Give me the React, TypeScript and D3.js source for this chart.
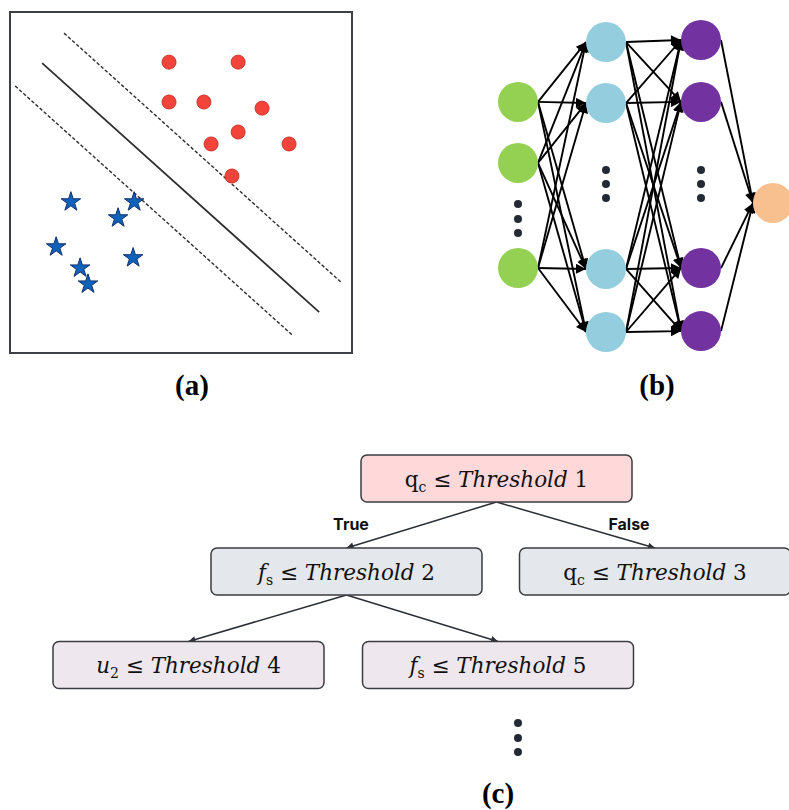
import React from "react";
import * as d3 from "d3";

// ---------- Panel (a): SVM data ----------
const redX = [4.65, 6.67, 4.65, 5.67, 7.37, 6.67, 5.88, 8.16, 6.49];
const redY = [8.53, 8.53, 7.36, 7.36, 7.18, 6.48, 6.13, 6.13, 5.19];
const blueX = [1.78, 3.63, 3.16, 1.35, 3.6, 2.05, 2.28];
const blueY = [4.43, 4.43, 3.96, 3.11, 2.79, 2.49, 2.02];
// margin / hyperplane lines: [x1, y1, x2, y2]
const upperMargin = [1.58, 9.38, 9.71, 2.05];
const hyperplane = [0.94, 8.5, 9.04, 1.2];
const lowerMargin = [0.15, 7.83, 8.25, 0.53];

// ---------- Panel (b): neural network ----------
const layerPos = [0, 88, 183, 255];
const inputNodes = [21.2, 42.1, 78.1];
const hidden1Nodes = [0.7, 21.6, 78.4, 100];
const hidden2Nodes = [0, 21.2, 78.1, 99.7];
const outputNodes = [55.8];
const inputDots = [56.2, 61.3, 66.1];
const hidden1Dots = [44.5, 49.3, 54.1];
const hidden2Dots = [44.5, 49.3, 54.1];

// ---------- Panel (c): decision tree ----------
const treeVar = ["q", "f", "q", "u", "f"];
const treeSub = ["c", "s", "c", "2", "s"];
const treeVarItalic = [false, true, false, true, true];
const treeThreshold = ["1", "2", "3", "4", "5"];
const treeEdges: [number, number, string][] = [
  [0, 1, "True"],
  [0, 2, "False"],
  [1, 3, ""],
  [1, 4, ""],
];
const panelLabels = ["(a)", "(b)", "(c)"];

export default function App() {
  const W = 789;
  const H = 810;

  // panel a scales
  const ax = d3.scaleLinear().domain([0, 10]).range([10, 352]);
  const ay = d3.scaleLinear().domain([0, 10]).range([353, 12]);
  const star = d3.symbol().type(d3.symbolStar).size(118)()!;

  // panel b scales
  const nx = d3.scaleLinear().domain([0, 255]).range([518, 773]);
  const ny = d3.scaleLinear().domain([0, 100]).range([40, 332]);
  const layers = [inputNodes, hidden1Nodes, hidden2Nodes, outputNodes];
  const layerDots = [inputDots, hidden1Dots, hidden2Dots, []];
  const layerColors = ["#94D153", "#94CEDE", "#7232A0", "#F9C08F"];
  const R = 20;

  const arrows: { x1: number; y1: number; x2: number; y2: number }[] = [];
  for (let l = 0; l < layers.length - 1; l++) {
    for (const s of layers[l]) {
      for (const t of layers[l + 1]) {
        arrows.push({
          x1: nx(layerPos[l]) + R,
          y1: ny(s),
          x2: nx(layerPos[l + 1]) - R,
          y2: ny(t),
        });
      }
    }
  }

  // panel c layout
  const boxW = 271;
  const boxH = 47;
  const boxCx = [496.5, 346.5, 655, 188.5, 498];
  const boxCy = [478.5, 571.5, 571.5, 665, 665];
  const boxFill = ["#FFD9D9", "#E4E7EB", "#E4E7EB", "#EEE8EE", "#EEE8EE"];

  const line = (a: number[], dashed: boolean, w: number) => (
    <line
      x1={ax(a[0])}
      y1={ay(a[1])}
      x2={ax(a[2])}
      y2={ay(a[3])}
      stroke="#2f2f2f"
      strokeWidth={w}
      strokeDasharray={dashed ? "3.5,2" : undefined}
    />
  );

  return (
    <svg
      width={W}
      height={H}
      style={{ position: "absolute", left: 0, top: 0, display: "block", background: "#fff" }}
    >
      <defs>
        <marker
          id="nnArrow"
          viewBox="0 0 10 10"
          refX={10}
          refY={5}
          markerWidth={12}
          markerHeight={10}
          markerUnits="userSpaceOnUse"
          orient="auto"
        >
          <path d="M0,0 L10,5 L0,10 z" fill="#000" />
        </marker>
        <marker
          id="treeArrow"
          viewBox="0 0 10 10"
          refX={10}
          refY={5}
          markerWidth={9}
          markerHeight={7}
          markerUnits="userSpaceOnUse"
          orient="auto"
        >
          <path d="M0,0 L10,5 L0,10 z" fill="#2a2f36" />
        </marker>
      </defs>

      {/* Panel (a) */}
      <rect x={10} y={12} width={342} height={341} fill="#fff" stroke="#3d4147" strokeWidth={2} />
      {line(upperMargin, true, 1.4)}
      {line(hyperplane, false, 1.8)}
      {line(lowerMargin, true, 1.4)}
      {redX.map((x, i) => (
        <circle key={"r" + i} cx={ax(x)} cy={ay(redY[i])} r={7} fill="#F2443B" stroke="#D0342B" strokeWidth={1} />
      ))}
      {blueX.map((x, i) => (
        <path
          key={"b" + i}
          d={star}
          transform={`translate(${ax(x)},${ay(blueY[i])})`}
          fill="#0F62BA"
          stroke="#12306E"
          strokeWidth={1}
        />
      ))}

      {/* Panel (b) */}
      {arrows.map((a, i) => (
        <line
          key={"a" + i}
          x1={a.x1}
          y1={a.y1}
          x2={a.x2}
          y2={a.y2}
          stroke="#000"
          strokeWidth={1.9}
          markerEnd="url(#nnArrow)"
        />
      ))}
      {layers.map((nodes, l) =>
        nodes.map((v, i) => (
          <circle key={`n${l}-${i}`} cx={nx(layerPos[l])} cy={ny(v)} r={R} fill={layerColors[l]} />
        ))
      )}
      {layerDots.map((dots, l) =>
        dots.map((v, i) => (
          <circle key={`d${l}-${i}`} cx={nx(layerPos[l])} cy={ny(v)} r={4} fill="#232A35" />
        ))
      )}

      {/* Panel (c) */}
      {treeEdges.map(([p, c], i) => (
        <line
          key={"e" + i}
          x1={boxCx[p]}
          y1={boxCy[p] + boxH / 2}
          x2={boxCx[c]}
          y2={boxCy[c] - boxH / 2}
          stroke="#2a2f36"
          strokeWidth={1.5}
          markerEnd="url(#treeArrow)"
        />
      ))}
      {treeEdges.map(([, c, lab], i) =>
        lab ? (
          <text
            key={"el" + i}
            x={c === 1 ? 351 : 629}
            y={530}
            textAnchor="middle"
            fontFamily="Inter, 'Open Sans', sans-serif"
            fontWeight={700}
            fontSize={16}
            fill="#111"
          >
            {lab}
          </text>
        ) : null
      )}
      {treeVar.map((v, i) => (
        <g key={"box" + i}>
          <rect
            x={boxCx[i] - boxW / 2}
            y={boxCy[i] - boxH / 2}
            width={boxW}
            height={boxH}
            rx={6}
            fill={boxFill[i]}
            stroke="#3a3d42"
            strokeWidth={1.5}
          />
          <text
            x={boxCx[i]}
            y={boxCy[i] + 8}
            textAnchor="middle"
            fontFamily="'DejaVu Serif', serif"
            fontSize={21.5}
            fill="#111"
          >
            <tspan fontStyle={treeVarItalic[i] ? "italic" : "normal"}>{v}</tspan>
            <tspan fontSize={14} dy={5}>
              {treeSub[i]}
            </tspan>
            <tspan dy={-5}>{" ≤ "}</tspan>
            <tspan fontStyle="italic">Threshold</tspan>
            <tspan>{" " + treeThreshold[i]}</tspan>
          </text>
        </g>
      ))}
      {[723, 738, 752].map((y, i) => (
        <circle key={"cd" + i} cx={518} cy={y} r={4} fill="#232A35" />
      ))}

      {/* Panel labels */}
      {panelLabels.map((t, i) => (
        <text
          key={"pl" + i}
          x={[192, 657, 498][i]}
          y={[395, 395, 803][i]}
          textAnchor="middle"
          fontFamily="'Liberation Serif', 'Times New Roman', serif"
          fontWeight={700}
          fontSize={29}
          fill="#000"
        >
          {t}
        </text>
      ))}
    </svg>
  );
}
